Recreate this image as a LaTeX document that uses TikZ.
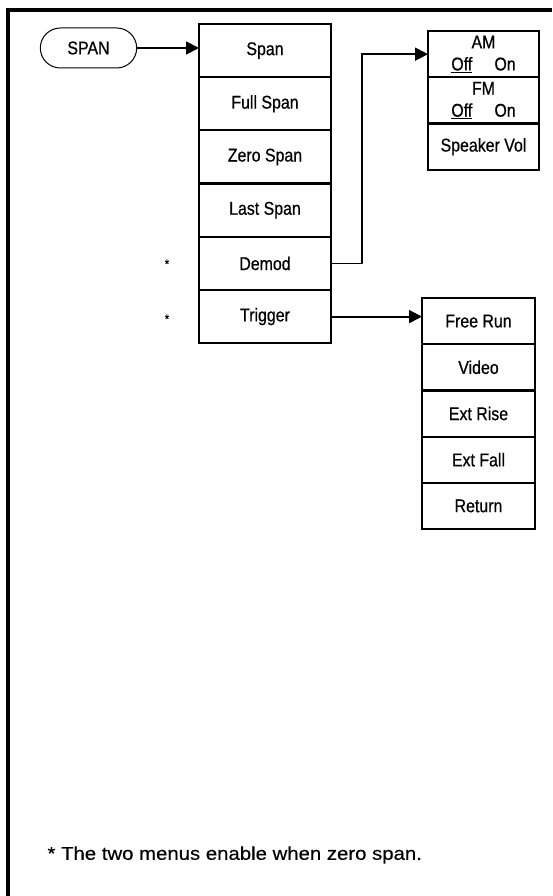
\documentclass[tikz,border=0pt]{standalone}
\usepackage{fontspec}
\setmainfont{Liberation Sans}[FakeStretch=0.86, FakeBold=0.6]
\newfontfamily\notefont{Liberation Sans}[FakeStretch=1.1, FakeBold=0.4]
\usetikzlibrary{arrows.meta,positioning,shapes.misc}
\tikzset{
  softkey/.style={draw, line width=2.2pt, outer sep=0pt, inner sep=0pt,
    minimum width=132pt, minimum height=53.2pt, font=\fontsize{18.5}{20}\selectfont},
  subkey/.style={softkey, minimum width=113pt, minimum height=46.2pt},
  demkey/.style={softkey, minimum width=111pt, minimum height=46.3pt, align=center,
    font=\fontsize{18.5}{22}\selectfont},
  link/.style={line width=1.8pt, -{Triangle[length=13pt,width=13pt]}}
}

\begin{document}
\begin{tikzpicture}[x=1pt, y=-1pt]
  \useasboundingbox (0,0) rectangle (552,896);
  \draw[line width=3.5pt] (8,896) -- (8,10) -- (552,10);

  \node[draw, rounded rectangle, line width=1pt, minimum width=103pt, minimum height=40pt,
    font=\fontsize{18.5}{20}\selectfont] (spankey) at (88.5,48) {SPAN};

  % span menu
  \node[softkey] (spn) at (265,50.6) {Span};
  \node[softkey, below=0pt of spn] (full) {Full Span};
  \node[softkey, below=0pt of full] (zero) {Zero Span};
  \node[softkey, below=0pt of zero] (last) {Last Span};
  \node[softkey, below=0pt of last] (demod) {Demod};
  \node[softkey, below=0pt of demod] (trig) {Trigger};
  \node[font=\fontsize{13}{13}\selectfont] (stara) at (167,264) {*};
  \node[font=\fontsize{13}{13}\selectfont] (starb) at (167,319) {*};

  % demod menu
  \node[demkey] (am) at (483.5,54.15) {AM\\\underline{Off}\hspace{1.2em}On};
  \node[demkey, below=0pt of am] (fm) {FM\\\underline{Off}\hspace{1.2em}On};
  \node[demkey, below=0pt of fm] (spk) {Speaker Vol};

  % trigger menu
  \node[subkey] (free) at (478.5,321.1) {Free Run};
  \node[subkey, below=0pt of free] (video) {Video};
  \node[subkey, below=0pt of video] (rise) {Ext Rise};
  \node[subkey, below=0pt of rise] (fall) {Ext Fall};
  \node[subkey, below=0pt of fall] (ret) {Return};

  \draw[link] (spankey.east) -- (spankey.east -| spn.west);
  \draw[link] (demod.east) -- ++(31,0) |- (am.west);
  \draw[link] (trig.east) -- (trig.east -| free.west);

  \node[anchor=west, font=\notefont\fontsize{18.5}{20}\selectfont] (note) at (44,855)
    {* The two menus enable when zero span.};
\end{tikzpicture}
\end{document}
